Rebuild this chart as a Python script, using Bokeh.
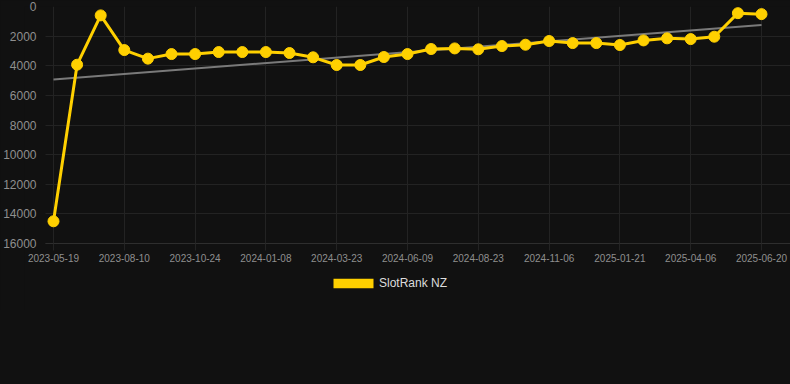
import numpy as np
from bokeh.plotting import figure
from bokeh.models import Range1d, FixedTicker, Legend, LegendItem, ColumnDataSource
from bokeh.embed import file_html
from bokeh.resources import INLINE

# ---- data ----
tick_labels = ["2023-05-19", "2023-08-10", "2023-10-24", "2024-01-08", "2024-03-23",
               "2024-06-09", "2024-08-23", "2024-11-06", "2025-01-21", "2025-04-06",
               "2025-06-20"]
rank = [14500, 3930, 600, 2940, 3520, 3210, 3210, 3075, 3075, 3075, 3140, 3430,
        3950, 3950, 3410, 3210, 2870, 2830, 2890, 2670, 2580, 2330, 2470, 2470,
        2600, 2290, 2150, 2200, 2040, 450, 515]
series_name = "SlotRank NZ"
tick_step = 3
y_ticks = [0, 2000, 4000, 6000, 8000, 10000, 12000, 14000, 16000]
y_axis_max = 16000

idx = list(range(len(rank)))
slope, intercept = np.polyfit(idx, rank, 1)
trend_x = [idx[0], idx[-1]]
trend_y = [intercept + slope * idx[0], intercept + slope * idx[-1]]

BG = "#111111"
GRID = "#232323"
YELLOW = "#FFD000"
LABEL = "#8f8f8f"

# layout (pixels)
PLOT_H = 237          # px for 0..16000
FRAME_H = 304         # frame extends below the value axis to hold the legend
FRAME_L = 24          # frame left edge
FRAME_W = 766
PX_PER_PT = 23.6
x_start = -(53 - FRAME_L) / PX_PER_PT
x_end = x_start + FRAME_W / PX_PER_PT
grid_start = -(53 - 45) / PX_PER_PT
y_bottom = y_axis_max * FRAME_H / PLOT_H

p = figure(frame_width=FRAME_W, frame_height=FRAME_H, output_backend="svg", toolbar_location=None,
           x_range=Range1d(x_start, x_end), y_range=Range1d(y_bottom, 0),
           min_border_left=FRAME_L, min_border_right=0, min_border_top=6, min_border_bottom=0,
           background_fill_color=BG, border_fill_color=BG, outline_line_color=None)

p.line(trend_x, trend_y, line_color="#7a7a7a", line_width=2)
src = ColumnDataSource(dict(x=idx, y=rank))
p.line("x", "y", source=src, line_color=YELLOW, line_width=3)
p.scatter("x", "y", source=src, size=11, fill_color=YELLOW, line_color=YELLOW)

# legend swatch only (no visible mark)
dummy = p.quad(left=[np.nan], right=[np.nan], top=[np.nan], bottom=[np.nan],
               fill_color=YELLOW, line_color=None)

xt = idx[::tick_step]
xax = p.xaxis[0]
xax.fixed_location = y_axis_max
xax.bounds = (grid_start, x_end)
xax.ticker = FixedTicker(ticks=xt)
xax.major_label_overrides = {t: lbl for t, lbl in zip(xt, tick_labels)}
xax.major_label_text_font = "Liberation Sans"
xax.major_label_text_font_size = "10px"
xax.major_label_text_color = LABEL
xax.major_tick_out = 7
xax.major_tick_in = 0
xax.major_tick_line_color = GRID
xax.minor_tick_line_color = None
xax.axis_line_color = "#2e2e2e"
xax.major_label_standoff = 3

yax = p.yaxis[0]
yax.ticker = FixedTicker(ticks=y_ticks)
yax.major_label_text_font = "Liberation Sans"
yax.major_label_text_font_size = "12px"
yax.major_label_text_color = LABEL
yax.major_tick_line_color = None
yax.minor_tick_line_color = None
yax.axis_line_color = None
yax.major_label_standoff = -18

xg = p.xgrid[0]
xg.ticker = FixedTicker(ticks=xt)
xg.grid_line_color = GRID
yg = p.ygrid[0]
yg.ticker = FixedTicker(ticks=y_ticks)
yg.grid_line_color = GRID
try:
    xg.cross_bounds = (0, y_axis_max)
    yg.cross_bounds = (grid_start, x_end)
except Exception:
    pass

legend = Legend(items=[LegendItem(label=series_name, renderers=[dummy])],
                location=(328 - FRAME_L, 20), orientation="horizontal",
                glyph_width=50, glyph_height=12, label_standoff=1,
                label_text_font="Liberation Sans", label_text_font_size="12px",
                label_text_color="#dddddd", padding=0, margin=0, spacing=0,
                background_fill_alpha=0, border_line_color=None)
p.add_layout(legend)

html = file_html(p, INLINE)
html = html.replace("</head>", "<style>html,body{background-color:#111111;}</style></head>", 1)
open("out.html", "w").write(html)
